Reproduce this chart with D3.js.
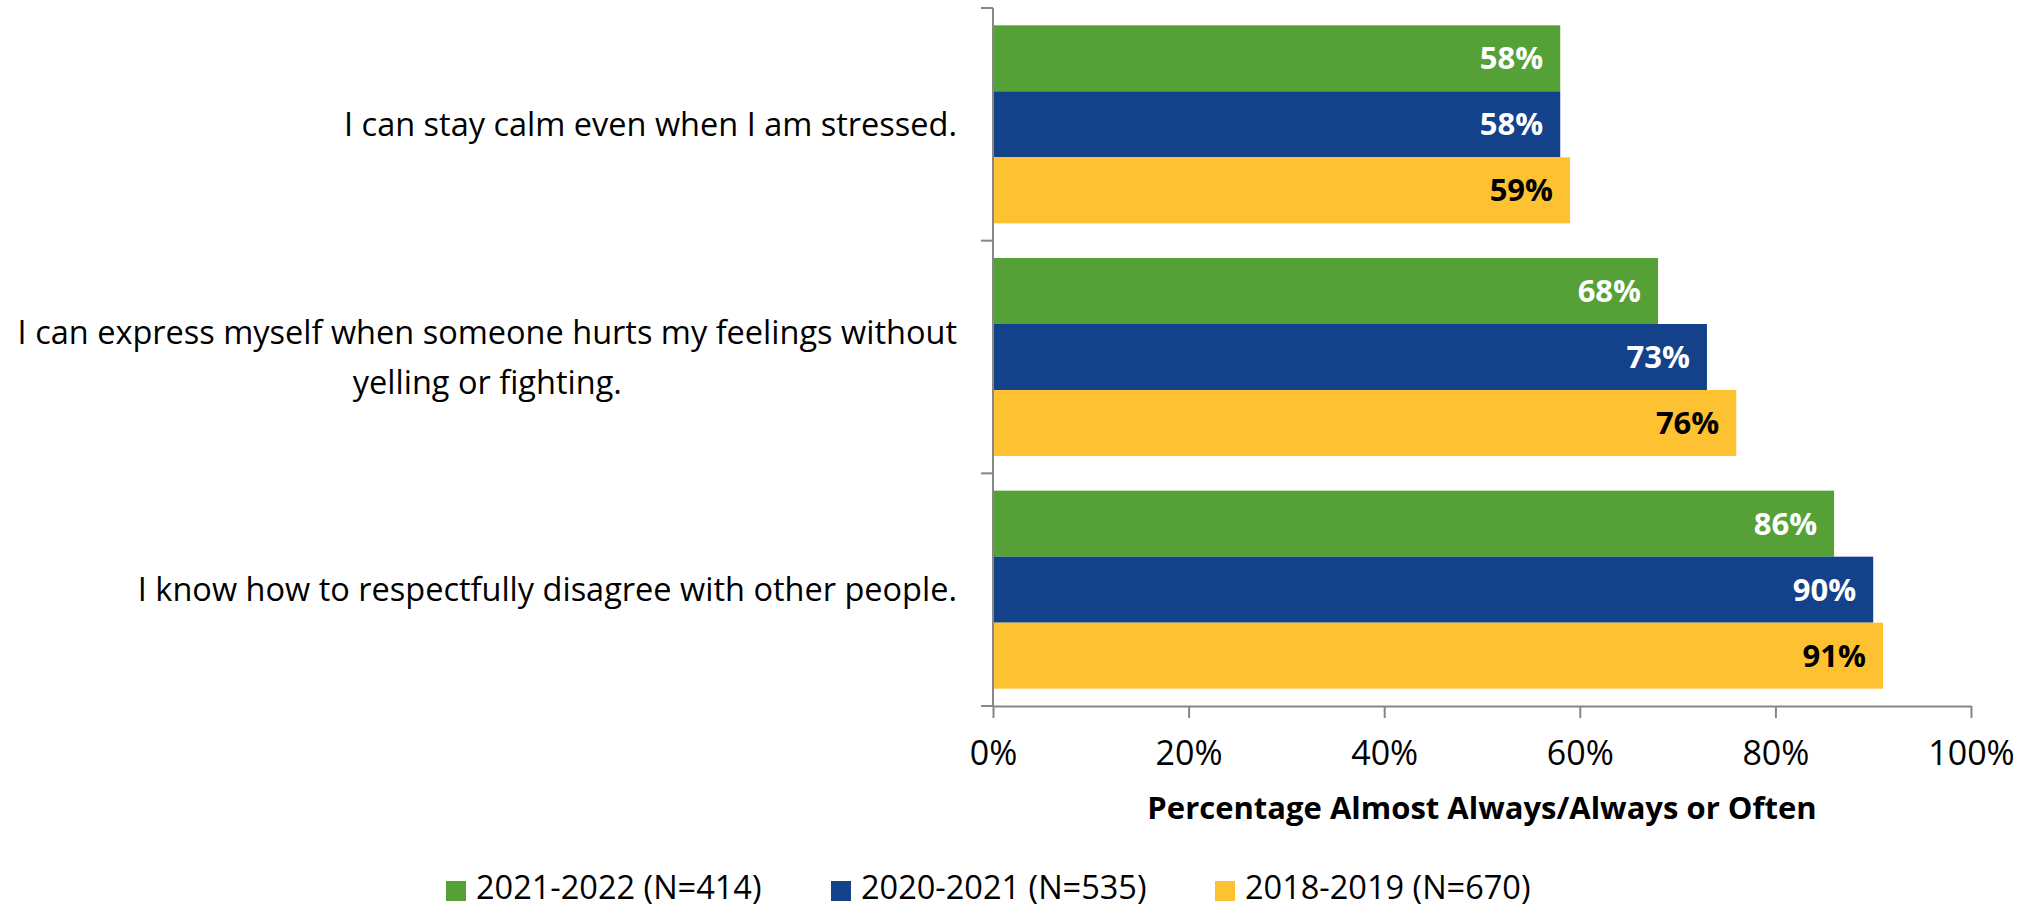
<!DOCTYPE html>
<html>
<head>
<meta charset="utf-8">
<script src="https://cdn.jsdelivr.net/npm/d3@7"></script>
<style>
  body { margin: 0; background: #fff; }
  text { font-family: "Open Sans", "Noto Sans", sans-serif; }
</style>
</head>
<body>
<script>
// chart data
var categories = [
  "I can stay calm even when I am stressed.",
  "I can express myself when someone hurts my feelings without|yelling or fighting.",
  "I know how to respectfully disagree with other people."
];
var seriesNames = ["2021-2022 (N=414)", "2020-2021 (N=535)", "2018-2019 (N=670)"];
var seriesColors = ["#55a137", "#14428a", "#fec132"];
var labelColors = ["#ffffff", "#ffffff", "#000000"];
var values2122 = [58, 68, 86];
var values2021 = [58, 73, 90];
var values1819 = [59, 76, 91];
var xTicks = [0, 20, 40, 60, 80, 100];
var axisTitle = "Percentage Almost Always/Always or Often";

var allSeries = [values2122, values2021, values1819];

var width = 2030, height = 909;
var plotLeft = 993, plotRight = 1971, plotTop = 8, plotBottom = 706;

var svg = d3.select("body").append("svg")
  .attr("width", width)
  .attr("height", height);

var x = d3.scaleLinear().domain([0, 100]).range([plotLeft, plotRight]);
var y = d3.scaleBand().domain(d3.range(categories.length)).range([plotTop, plotBottom]).paddingInner(0.149).paddingOuter(0.0745);
// boundaries between categories (for the outer ticks)
var yBound = d3.scaleLinear().domain([0, categories.length]).range([plotTop, plotBottom]);
var ySub = d3.scaleBand().domain(d3.range(seriesNames.length)).range([0, y.bandwidth()]);

// bars
categories.forEach(function(c, ci){
  var g = svg.append("g").attr("transform", "translate(0," + y(ci) + ")");
  allSeries.forEach(function(vals, si){
    g.append("rect")
      .attr("x", x(0))
      .attr("y", ySub(si))
      .attr("width", x(vals[ci]) - x(0))
      .attr("height", ySub.bandwidth())
      .attr("fill", seriesColors[si]);
    g.append("text")
      .attr("x", x(vals[ci]) - 17)
      .attr("y", ySub(si) + ySub.bandwidth()/2)
      .attr("dy", "0.36em")
      .attr("text-anchor", "end")
      .style("font-size", "31px")
      .style("font-weight", "bold")
      .attr("fill", labelColors[si])
      .text(vals[ci] + "%");
  });
});

// y axis line + ticks
var axisColor = "#868686";
svg.append("line").attr("x1", plotLeft).attr("x2", plotLeft).attr("y1", plotTop).attr("y2", plotBottom)
  .attr("stroke", axisColor).attr("stroke-width", 2);
d3.range(categories.length + 1).forEach(function(i){
  svg.append("line").attr("x1", plotLeft - 12).attr("x2", plotLeft)
    .attr("y1", yBound(i)).attr("y2", yBound(i))
    .attr("stroke", axisColor).attr("stroke-width", 2);
});

// x axis
var xAxis = svg.append("g").attr("transform", "translate(0," + plotBottom + ")")
  .call(d3.axisBottom(x).tickValues(xTicks).tickSize(12).tickSizeOuter(0).tickFormat(function(d){ return d + "%"; }));
xAxis.select(".domain").attr("stroke", axisColor).attr("stroke-width", 2);
xAxis.selectAll(".tick line").attr("stroke", axisColor).attr("stroke-width", 2);
xAxis.selectAll(".tick text")
  .attr("y", 59).attr("dy", 0)
  .attr("fill", "#000")
  .style("font-family", "\"Open Sans\", sans-serif")
  .style("font-size", "34px");

svg.append("text")
  .attr("x", (plotLeft + plotRight)/2)
  .attr("y", 819)
  .attr("text-anchor", "middle")
  .style("font-size", "31px")
  .style("font-weight", "bold")
  .text(axisTitle);

// category labels (multi-line block right-aligned, lines centered)
var labelRight = 957, lineGap = 50;
categories.forEach(function(c, ci){
  var lines = c.split("|");
  var cy = y(ci) + y.bandwidth()/2;
  var g = svg.append("g");
  var texts = lines.map(function(l, li){
    return g.append("text")
      .attr("y", cy + (li - (lines.length - 1)/2) * lineGap)
      .attr("dy", "0.36em")
      .attr("text-anchor", "middle")
      .style("font-size", "32.5px")
      .text(l);
  });
  var maxW = d3.max(texts, function(t){ return t.node().getComputedTextLength(); });
  texts.forEach(function(t){ t.attr("x", labelRight - maxW/2); });
});

// legend
var legendX = [446, 831, 1215];
var legend = svg.append("g");
seriesNames.forEach(function(s, si){
  legend.append("rect")
    .attr("x", legendX[si]).attr("y", 881)
    .attr("width", 20).attr("height", 20)
    .attr("fill", seriesColors[si]);
  legend.append("text")
    .attr("x", legendX[si] + 30).attr("y", 899)
    .style("font-size", "32.5px")
    .text(s);
});
</script>
</body>
</html>
